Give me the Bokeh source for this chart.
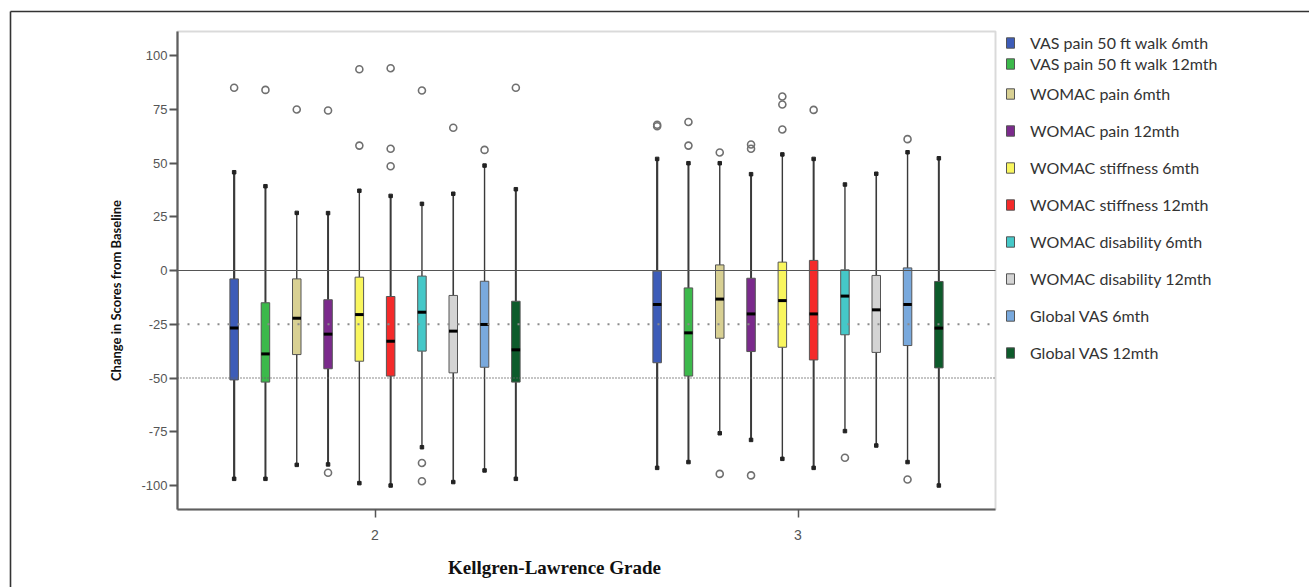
import numpy as np
from bokeh.plotting import figure
from bokeh.models import (Range1d, FixedTicker, Legend, LegendItem, Label,
                          BoxAnnotation, ColumnDataSource)
from bokeh.embed import file_html
from bokeh.resources import INLINE

# ---------------- data ----------------
grades = [2, 3]
grade_labels = {2: "2", 3: "3"}
series = ["VAS pain 50 ft walk 6mth", "VAS pain 50 ft walk 12mth", "WOMAC pain 6mth",
          "WOMAC pain 12mth", "WOMAC stiffness 6mth", "WOMAC stiffness 12mth",
          "WOMAC disability 6mth", "WOMAC disability 12mth", "Global VAS 6mth",
          "Global VAS 12mth"]
colors = ["#3d5cb8", "#3cb94b", "#d8d093", "#7b2a8c", "#f9f65e", "#f42a2a",
          "#45c8c8", "#d4d4d4", "#79a9dd", "#0d5b2b"]

# grade 2
g2_whi = [45.7, 39.2, 26.8, 26.7, 37.1, 34.7, 31.0, 35.7, 48.8, 37.8]
g2_q3 = [-3.9, -15.0, -3.9, -13.6, -3.1, -12.1, -2.6, -11.6, -5.0, -14.3]
g2_med = [-26.8, -38.8, -22.2, -29.6, -20.5, -32.9, -19.4, -28.2, -25.1, -36.9]
g2_q1 = [-50.9, -51.9, -39.1, -45.7, -42.2, -49.1, -37.5, -47.6, -45.0, -51.9]
g2_wlo = [-96.9, -96.9, -90.4, -90.2, -98.9, -100.0, -82.2, -98.4, -93.0, -96.9]
g2_out = [[85.0], [84.0], [74.9], [74.4, -94.1], [93.6, 58.1], [94.1, 56.6, 48.5],
          [83.7, -89.5, -98.0], [66.4], [56.1], [85.0]]

# grade 3
g3_whi = [51.9, 49.9, 49.9, 44.8, 54.0, 51.9, 40.0, 45.0, 55.0, 52.2]
g3_q3 = [-0.3, -8.1, 2.6, -3.6, 3.9, 4.7, 0.3, -2.3, 1.2, -5.1]
g3_med = [-15.8, -29.0, -13.3, -20.2, -14.0, -20.2, -11.9, -18.3, -15.8, -26.8]
g3_q1 = [-42.9, -49.1, -31.5, -37.7, -35.7, -41.6, -29.9, -38.1, -34.9, -45.3]
g3_wlo = [-91.8, -89.1, -75.7, -78.8, -87.6, -91.8, -74.7, -81.4, -89.1, -100.0]
g3_out = [[67.8, 67.1], [69.1, 58.1], [54.9, -94.6], [58.6, 56.6, -95.3],
          [80.9, 77.2, 65.6], [74.7], [-87.1], [], [61.1, -97.2], []]

y_ticks = [-100, -75, -50, -25, 0, 25, 50, 75, 100]
ref_lines = [0, -25, -50]
ref_dash = ["solid", "2 8", "1 2"]
ref_color = ["#555555", "#8a8a8a", "#666666"]
ref_width = [1.2, 2.0, 1.5]

# ---------------- layout (pixels of the canvas) ----------------
W, H = 1309, 587
BOX_L, BOX_R, BOX_T, BOX_B = 177, 995, 31, 509     # inner plot box
PX_X = 423.0          # pixels per grade unit
PX_Y = 2.15           # pixels per score unit
X_AT = (2, 374.5)     # grade 2 sits at pixel 374.5
Y_AT = (0, 270.0)     # score 0 sits at pixel 270

def dx(px):
    return X_AT[0] + (px - X_AT[1]) / PX_X

def dy(py):
    return Y_AT[0] - (py - Y_AT[1]) / PX_Y

STEP = 31.3 / PX_X      # offset between boxes inside a grade
BOXW = 8.5 / PX_X
whisker_w = [2.2, 2.0, 1.4, 2.0, 1.4, 2.0, 1.4, 1.6, 1.4, 2.0]

p = figure(width=W, height=H, output_backend="svg", toolbar_location=None,
           x_range=Range1d(dx(0), dx(W)), y_range=Range1d(dy(H), dy(0)),
           min_border_left=0, min_border_right=0, min_border_top=0,
           min_border_bottom=0)
p.xgrid.visible = False
p.ygrid.visible = False
p.outline_line_color = None
p.background_fill_color = "white"
p.border_fill_color = "white"

xl, xr, yt, yb = dx(BOX_L), dx(BOX_R), dy(BOX_T), dy(BOX_B)

# inner plot box
p.add_layout(BoxAnnotation(left=xl, right=xr, bottom=yb, top=yt,
                           fill_alpha=0, line_color="#858585", line_width=2,
                           level="underlay"))

tick_font = "Liberation Sans"
p.yaxis.fixed_location = xl
p.yaxis.bounds = (yb, yt)
p.yaxis.ticker = FixedTicker(ticks=y_ticks)
p.yaxis.major_label_overrides = {t: str(t) for t in y_ticks}
p.yaxis.major_label_text_font = tick_font
p.yaxis.major_label_text_font_size = "13px"
p.yaxis.major_label_text_color = "#555555"
p.yaxis.axis_line_color = "#5e5e5e"
p.yaxis.axis_line_width = 2.2
p.yaxis.major_tick_line_color = "#555555"
p.yaxis.major_tick_line_width = 2
p.yaxis.major_tick_out = 8
p.yaxis.major_tick_in = 0
p.yaxis.minor_tick_line_color = None
p.yaxis.major_label_standoff = 2

p.xaxis.fixed_location = yb
p.xaxis.bounds = (xl, xr)
p.xaxis.ticker = FixedTicker(ticks=grades)
p.xaxis.major_label_overrides = grade_labels
p.xaxis.major_label_text_font = tick_font
p.xaxis.major_label_text_font_size = "14px"
p.xaxis.major_label_text_color = "#555555"
p.xaxis.axis_line_color = "#5e5e5e"
p.xaxis.axis_line_width = 2.2
p.xaxis.major_tick_line_color = "#555555"
p.xaxis.major_tick_line_width = 1.5
p.xaxis.major_tick_out = 8
p.xaxis.major_tick_in = 0
p.xaxis.minor_tick_line_color = None
p.xaxis.major_label_standoff = 12

g_whi = {2: g2_whi, 3: g3_whi}
g_q3 = {2: g2_q3, 3: g3_q3}
g_med = {2: g2_med, 3: g3_med}
g_q1 = {2: g2_q1, 3: g3_q1}
g_wlo = {2: g2_wlo, 3: g3_wlo}
g_out = {2: g2_out, 3: g3_out}

box_renderers = []
for i, name in enumerate(series):
    xs = [g + (i - 4.5) * STEP for g in grades]
    src = ColumnDataSource(dict(
        x=xs,
        x0=[x - BOXW / 2 for x in xs],
        x1=[x + BOXW / 2 for x in xs],
        whi=[g_whi[g][i] for g in grades],
        q3=[g_q3[g][i] for g in grades],
        med=[g_med[g][i] for g in grades],
        q1=[g_q1[g][i] for g in grades],
        wlo=[g_wlo[g][i] for g in grades],
    ))
    p.segment(x0="x", x1="x", y0="q3", y1="whi", source=src,
              line_color="#3a3a3a", line_width=whisker_w[i])
    p.segment(x0="x", x1="x", y0="wlo", y1="q1", source=src,
              line_color="#3a3a3a", line_width=whisker_w[i])
    p.scatter(x="x", y="whi", source=src, marker="square", size=3.5,
              fill_color="#222222", line_color="#222222")
    p.scatter(x="x", y="wlo", source=src, marker="square", size=3.5,
              fill_color="#222222", line_color="#222222")
    r = p.vbar(x="x", width=BOXW, top="q3", bottom="q1", source=src,
               fill_color=colors[i], line_color="#555555", line_width=1)
    box_renderers.append(r)
    p.segment(x0="x0", x1="x1", y0="med", y1="med", source=src,
              line_color="#000000", line_width=3)
    ox, oy = [], []
    for g in grades:
        for v in g_out[g][i]:
            ox.append(g + (i - 4.5) * STEP)
            oy.append(v)
    if ox:
        p.scatter(x=ox, y=oy, marker="circle", size=7, fill_color=None,
                  line_color="#707070", line_width=1.6)

# reference lines across the plot box
for k, yv in enumerate(ref_lines):
    p.segment(x0=[xl], x1=[xr], y0=[yv], y1=[yv], line_color=ref_color[k],
              line_width=ref_width[k], line_dash=ref_dash[k])

# legends on the right of the plot box
def make_legend(idx, spacing, bottom_px):
    return Legend(items=[LegendItem(label=series[k], renderers=[box_renderers[k]]) for k in idx],
                  location=(1005, H - bottom_px), orientation="vertical",
                  glyph_width=10, glyph_height=13, label_height=20, label_width=10,
                  label_standoff=15, spacing=spacing, padding=0, margin=0,
                  border_line_alpha=0, background_fill_alpha=0,
                  label_text_font="Lato", label_text_font_size="16px",
                  label_text_color="#333333", label_text_baseline="middle")

p.add_layout(make_legend([0, 1], 1, 73))
p.add_layout(make_legend(list(range(2, 10)), 17, 362))

# axis titles
p.add_layout(Label(x=dx(115), y=dy(290),
                   text="Change in Scores from Baseline", angle=np.pi / 2,
                   text_align="center", text_baseline="middle",
                   text_font="Lato", text_font_style="bold", text_font_size="13px",
                   text_color="#111111"))
p.add_layout(Label(x=dx(554), y=dy(567),
                   text="Kellgren-Lawrence Grade",
                   text_align="center", text_baseline="middle",
                   text_font="Liberation Serif", text_font_style="bold",
                   text_font_size="19px", text_color="#111111"))

# outer border (left and top edges of the figure box)
p.segment(x0=[dx(10), dx(10)], x1=[dx(10), dx(W + 5)],
          y0=[dy(11), dy(11)], y1=[dy(H + 5), dy(11)],
          line_color="#333333", line_width=1.6)

open("out.html", "w").write(file_html(p, INLINE))
